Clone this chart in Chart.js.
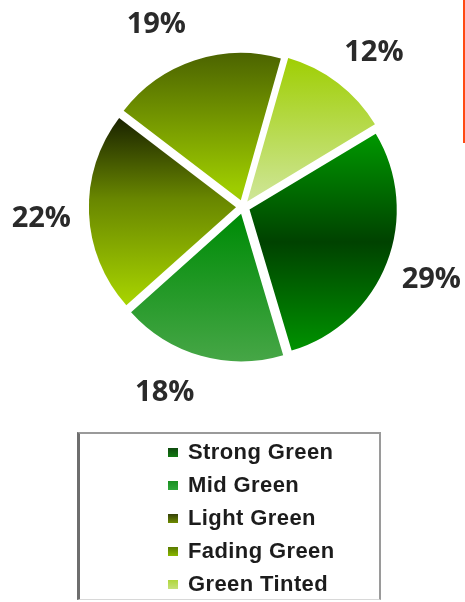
<!DOCTYPE html>
<html>
<head>
<meta charset="utf-8">
<script src="https://cdn.jsdelivr.net/npm/chart.js"></script>
<style>
  body{margin:0;background:#fff;width:465px;height:602px;overflow:hidden;position:relative;font-family:"Liberation Sans",Arial,sans-serif}
  #wrap{position:absolute;left:0;top:0;width:465px;height:440px}
  #redline{position:absolute;left:463px;top:0;width:2px;height:143px;background:#ff4a14}
  #legend{position:absolute;left:77px;top:432px;width:304px;height:168px;border:2px solid #9a9a9a;border-left:3px solid #6e6e6e;border-bottom:1px solid #d8d8d8;box-sizing:border-box}
  .item{position:absolute;left:88px;height:30px;line-height:30px;font-weight:bold;font-size:22px;letter-spacing:0.4px;color:#1c1c1c;white-space:nowrap}
  .sw{display:inline-block;width:10px;height:9px;margin-right:10px;vertical-align:2px}
</style>
</head>
<body>
<div id="wrap"><canvas id="pie"></canvas></div>
<div id="redline"></div>
<div id="legend"></div>

<script>
  // data
  const labels = ['Strong Green', 'Mid Green', 'Light Green', 'Fading Green', 'Green Tinted'];
  const shares = [29, 18, 22, 19, 12];

  // vertical gradient stops per slice (t = 0 top of pie, 1 bottom)
  const gradStops = [
    [[0.26, '#009400'], [0.61, '#004200'], [0.97, '#009000']],
    [[0.52, '#008c08'], [1.00, '#46a646']],
    [[0.19, '#182000'], [0.47, '#688600'], [0.82, '#a6d200']],
    [[0.00, '#4c6400'], [0.46, '#9ecc00']],
    [[0.00, '#9ece00'], [0.48, '#cde592']]
  ];
  const swatch = [
    'linear-gradient(#0f4a0f,#127a12)',
    'linear-gradient(#1a8f22,#2fa83a)',
    'linear-gradient(#34400a,#6f8c00)',
    'linear-gradient(#5a7a00,#8ab800)',
    'linear-gradient(#b0d63c,#c6e27a)'
  ];
  // small angular nudges for the % labels, degrees
  const labelShift = [0, 7, -1, -7, 3];
  const sliceOffset = 28;

  const legend = document.getElementById('legend');
  labels.forEach((name, i) => {
    const d = document.createElement('div');
    d.className = 'item';
    d.style.top = (3 + i * 33) + 'px';
    d.innerHTML = `<span class="sw" style="background:${swatch[i]}"></span>${name}`;
    legend.appendChild(d);
  });

  function sliceFill(c){
    const ch = c.chart;
    const a = ch.chartArea;
    if(!a) return '#3a8a00';
    const cy = (a.top + a.bottom) / 2;
    const r = (Math.min(a.width, a.height) - sliceOffset) / 2;
    const g = ch.ctx.createLinearGradient(0, cy - r, 0, cy + r);
    gradStops[c.dataIndex].forEach(s => g.addColorStop(s[0], s[1]));
    return g;
  }

  const pctLabels = {
    id: 'pctLabels',
    afterDatasetsDraw(chart){
      const ctx = chart.ctx;
      const meta = chart.getDatasetMeta(0);
      ctx.save();
      ctx.font = '700 29px "Open Sans", "DejaVu Sans", sans-serif';
      ctx.fillStyle = '#2a2a2a';
      ctx.textAlign = 'center';
      ctx.textBaseline = 'middle';
      meta.data.forEach((arc, i) => {
        const p = arc.getProps(['x', 'y', 'startAngle', 'endAngle'], true);
        const mid = (p.startAngle + p.endAngle) / 2 + labelShift[i] * Math.PI / 180;
        const R = 202;
        ctx.fillText(shares[i] + '%', p.x + Math.cos(mid) * R, p.y + Math.sin(mid) * R);
      });
      ctx.restore();
    }
  };

  new Chart(document.getElementById('pie'), {
    type: 'pie',
    data: {
      labels: labels,
      datasets: [{
        data: shares,
        backgroundColor: sliceFill,
        borderWidth: 0,
        offset: sliceOffset,
        hoverOffset: sliceOffset
      }]
    },
    options: {
      responsive: true,
      maintainAspectRatio: false,
      animation: false,
      rotation: 59,
      layout: { padding: { left: 82, right: 61, top: 46, bottom: 72 } },
      plugins: {
        legend: { display: false },
        tooltip: { enabled: false }
      }
    },
    plugins: [pctLabels]
  });
</script>
</body>
</html>
